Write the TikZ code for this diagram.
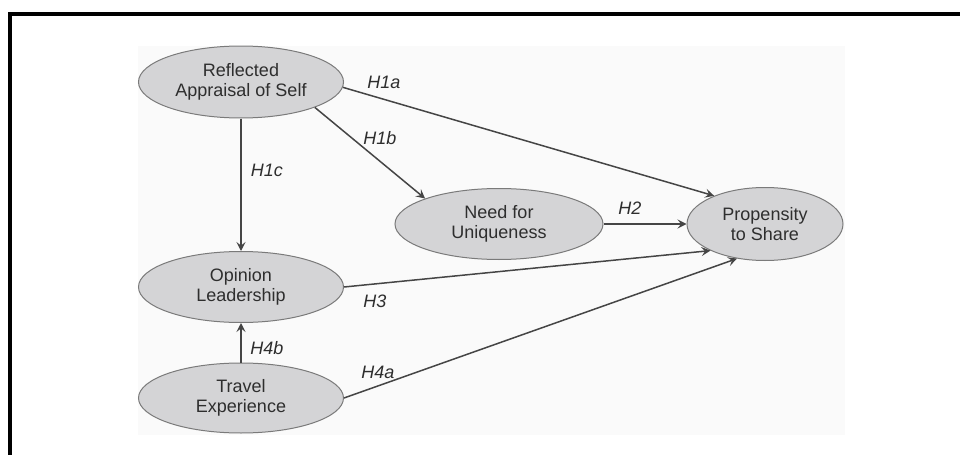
\documentclass[tikz,border=0pt]{standalone}
\usepackage{fontspec}
\setmainfont{Liberation Sans}
\usepackage{tikz}
\usetikzlibrary{arrows.meta, shapes, positioning}
\definecolor{ovalfill}{HTML}{D4D4D6}
\definecolor{ovalline}{HTML}{7A7A7A}
\definecolor{linkgray}{HTML}{454545}
\definecolor{textgray}{HTML}{2E2E2E}
\definecolor{panel}{HTML}{FAFAFA}
\tikzset{
    construct/.style 2 args={
        draw=ovalline, fill=ovalfill, line width=0.5pt, ellipse, inner sep=0pt,
        minimum width=#1, minimum height=#2, align=center, text=textgray,
        font=\fontsize{9}{10}\selectfont
    },
    hyp/.style={inner sep=0pt, text=textgray, font=\fontsize{9}{10}\selectfont\itshape},
    link/.style={draw=linkgray, line width=0.75pt,
        -{Stealth[length=4.5pt, width=4.5pt, inset=1.8pt]}}
}

\begin{document}
\begin{tikzpicture}[x=0.5pt, y=-0.5pt]
    \useasboundingbox (0,0) rectangle (960,455);
    % frame and panel
    \fill[panel] (138,46) rectangle (845,435);
    \draw[line width=2pt, miter limit=10] (10,470) -- (10,14) -- (975,14);
    % constructs
    \node[construct={102.5pt}{36pt}] (self) at (241,82) {Reflected\\Appraisal of Self};
    \node[construct={104pt}{35.5pt}] (need) at (499,224) {Need for\\Uniqueness};
    \node[construct={78pt}{36.5pt}] (share) at (765,224) {Propensity\\to Share};
    \node[construct={102.5pt}{35.5pt}] (lead) at (241,287) {Opinion\\Leadership};
    \node[construct={102.5pt}{35pt}] (trav) at (241,398) {Travel\\Experience};
    % hypotheses
    \draw[link] (self.-3) -- (share.151);
    \draw[link] (self.-19) -- (need.161);
    \draw[link] (self.south) -- (lead.north);
    \draw[link] (need.east) -- (share.west);
    \draw[link] (lead.east) -- (share.206);
    \draw[link] (trav.east) -- (share.231);
    \draw[link] (trav.north) -- (lead.south);
    \node[hyp] (h1a) at (384,82) {H1a};
    \node[hyp] (h1b) at (380,138) {H1b};
    \node[hyp] (h1c) at (267,170) {H1c};
    \node[hyp] (h2) at (630,208) {H2};
    \node[hyp] (h3) at (375,301) {H3};
    \node[hyp] (h4a) at (378,372) {H4a};
    \node[hyp] (h4b) at (267,348) {H4b};
\end{tikzpicture}
\end{document}
